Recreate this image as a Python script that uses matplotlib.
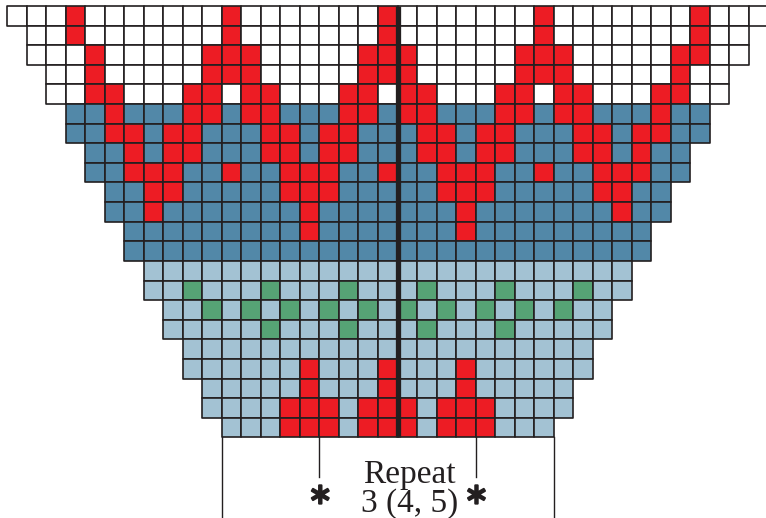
import numpy as np
import matplotlib
matplotlib.use("Agg")
import matplotlib.pyplot as plt
import matplotlib.patheffects as pe
from matplotlib.patches import Rectangle
from matplotlib.collections import PatchCollection

plt.rcParams["mathtext.fontset"] = "dejavusans"

# ---- chart data -------------------------------------------------------
n_cols = 39
row_start = [0, 1, 1, 2, 2, 3, 3, 4, 4, 5, 5, 6, 6, 7, 7, 8, 8, 9, 9, 10, 10, 11]
row_end   = [38, 37, 37, 36, 36, 35, 35, 34, 34, 33, 33, 32, 32, 31, 31, 30, 30, 29, 29, 28, 28, 27]
# background colour per row: W = white, B = dark blue, L = light blue
row_bg = ["W"] * 5 + ["B"] * 8 + ["L"] * 9
red_cells = [
    [3, 11, 19, 27, 35],
    [3, 11, 19, 27, 35],
    [4, 10, 11, 12, 18, 19, 20, 26, 27, 28, 34, 35],
    [4, 10, 11, 12, 18, 19, 20, 26, 27, 28, 34],
    [4, 5, 9, 10, 12, 13, 17, 18, 20, 21, 25, 26, 28, 29, 33, 34],
    [5, 9, 10, 12, 13, 17, 18, 20, 21, 25, 26, 28, 29, 33],
    [5, 6, 8, 9, 13, 14, 16, 17, 21, 22, 24, 25, 29, 30, 32, 33],
    [6, 8, 9, 13, 14, 16, 17, 21, 22, 24, 25, 29, 30, 32],
    [6, 7, 8, 11, 14, 15, 16, 19, 22, 23, 24, 27, 30, 31, 32],
    [7, 8, 14, 15, 16, 22, 23, 24, 30, 31],
    [7, 15, 23, 31],
    [15, 23],
    [],
    [],
    [],
    [],
    [],
    [],
    [15, 19, 23],
    [15, 19, 23],
    [14, 15, 16, 18, 19, 20, 22, 23, 24],
    [14, 15, 16, 18, 19, 20, 22, 23, 24],
]
green_cells = {
    14: [9, 13, 17, 21, 25, 29],
    15: [10, 12, 14, 16, 18, 20, 22, 24, 26, 28],
    16: [13, 17, 21, 25],
}
center_col = 20
repeat_cols = (16, 24)
panel_cols = (11, 28)
label_top = "Repeat"
label_bottom = "3 (4, 5)"

# ---- colours ---------------------------------------------------------
palette = {"W": "#FFFFFF", "B": "#5288A8", "L": "#A3C2D3", "R": "#ED1C24", "G": "#56A375"}
edge = "#231F20"

n_rows = len(row_start)
patches, colors = [], []
for r in range(n_rows):
    for c in range(row_start[r], row_end[r] + 1):
        key = row_bg[r]
        if c in red_cells[r]:
            key = "R"
        elif c in green_cells.get(r, []):
            key = "G"
        patches.append(Rectangle((c, r), 1, 1))
        colors.append(palette[key])

fig = plt.figure(figsize=(7.66, 5.18), dpi=100)
ax = fig.add_axes([0, 0, 1, 1])
ax.add_collection(PatchCollection(patches, facecolors=colors, edgecolors=edge,
                                  linewidths=1.2))

# centre line
ax.plot([center_col, center_col], [0, n_rows], color=edge, lw=3.8, solid_capstyle="butt")

# repeat brackets
for c in panel_cols:
    ax.plot([c, c], [n_rows, 27], color=edge, lw=1.0)
for c in repeat_cols:
    ax.plot([c, c], [n_rows, 24.02], color=edge, lw=1.0)
    ax.text(c, 25.38, r"$\ast$", ha="center", va="baseline", fontsize=21,
            color=edge, path_effects=[pe.withStroke(linewidth=1.5, foreground=edge)])

mid = (repeat_cols[0] + repeat_cols[1]) / 2 + 0.6
ax.text(mid, 24.32, label_top, ha="center", va="baseline", fontsize=24,
        family="Liberation Serif", color=edge)
ax.text(mid, 25.80, label_bottom, ha="center", va="baseline", fontsize=24,
        family="Liberation Serif", color=edge)

ax.set_xlim(-7 / 19.525, (766 - 7) / 19.525)
ax.set_ylim((518 - 6) / 19.61, -6 / 19.61)
ax.axis("off")
fig.savefig("out.png", dpi=100)
